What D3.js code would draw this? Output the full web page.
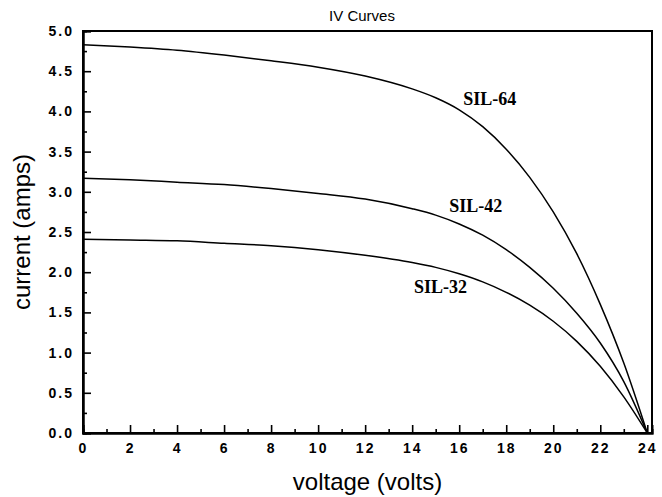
<!DOCTYPE html>
<html>
<head>
<meta charset="utf-8">
<script src="https://cdn.jsdelivr.net/npm/d3@7/dist/d3.min.js"></script>
<style>
  body { margin: 0; background: #fff; }
  svg { display: block; }
</style>
</head>
<body>
<div id="chart"></div>
<script>
// volts, one list for each panel
var volts = [0, 2, 4, 6, 8, 10, 12, 14, 15, 16, 17, 18, 19, 20, 21, 22, 23, 24];
var sil64 = [4.83, 4.80, 4.76, 4.70, 4.63, 4.55, 4.44, 4.28, 4.17, 4.02, 3.81, 3.53, 3.18, 2.75, 2.23, 1.60, 0.87, 0];
var sil42 = [3.17, 3.15, 3.12, 3.09, 3.04, 2.98, 2.91, 2.79, 2.71, 2.60, 2.46, 2.28, 2.06, 1.80, 1.49, 1.12, 0.64, 0];
var sil32 = [2.41, 2.40, 2.39, 2.36, 2.33, 2.28, 2.21, 2.12, 2.06, 1.98, 1.88, 1.75, 1.59, 1.39, 1.14, 0.83, 0.45, 0];
var seriesNames = ['SIL-64', 'SIL-42', 'SIL-32'];
// where each name sits, in data units
var labelAt = [[17.3, 4.08], [16.7, 2.75], [15.2, 1.74]];

var xTicks = [0, 2, 4, 6, 8, 10, 12, 14, 16, 18, 20, 22, 24];
var xMinor = [1, 3, 5, 7, 9, 11, 13, 15, 17, 19, 21, 23];
var yTicks = [0, 0.5, 1, 1.5, 2, 2.5, 3, 3.5, 4, 4.5, 5];
var yMinor = [0.25, 0.75, 1.25, 1.75, 2.25, 2.75, 3.25, 3.75, 4.25, 4.75];

var chart_width = 662, chart_height = 497;
var plot_left = 83, plot_right = 652, plot_top = 31, plot_bottom = 433;

var svg = d3.select('#chart').append('svg')
	.attr('width', chart_width)
	.attr('height', chart_height);

var x = d3.scaleLinear().domain([0, 24.2]).range([plot_left, plot_right]);
var y = d3.scaleLinear().domain([0, 5]).range([plot_bottom, plot_top]);

// frame
svg.append('rect')
	.attr('x', plot_left).attr('y', plot_top)
	.attr('width', plot_right - plot_left).attr('height', plot_bottom - plot_top)
	.attr('fill', 'none').attr('stroke', '#000').attr('stroke-width', 2);

// bottom axis, ticks pointing in
svg.append('g')
	.attr('transform', 'translate(0,' + plot_bottom + ')')
	.call(d3.axisBottom(x).tickValues(xTicks).tickSize(-8).tickPadding(10).tickFormat(d3.format('d')));
svg.append('g')
	.attr('transform', 'translate(0,' + plot_bottom + ')')
	.call(d3.axisBottom(x).tickValues(xMinor).tickSize(-4).tickFormat(''));

svg.append('g')
	.attr('transform', 'translate(' + plot_left + ',0)')
	.call(d3.axisLeft(y).tickValues(yTicks).tickSize(-8).tickPadding(9).tickFormat(d3.format('.1f')));
svg.append('g')
	.attr('transform', 'translate(' + plot_left + ',0)')
	.call(d3.axisLeft(y).tickValues(yMinor).tickSize(-4).tickFormat(''));

svg.selectAll('.domain').attr('stroke', '#000').attr('stroke-width', 2);
svg.selectAll('.tick line').attr('stroke', '#000').attr('stroke-width', 1.6);
svg.selectAll('.tick text')
	.attr('fill', '#000')
	.style('font-family', 'Liberation Sans, Arial, sans-serif')
	.style('font-weight', 'bold')
	.style('font-size', '14px')
	.style('letter-spacing', '2px');

// curves
var line = d3.line()
	.x(function(d) { return x(d[0]); })
	.y(function(d) { return y(d[1]); })
	.curve(d3.curveMonotoneX);

[sil64, sil42, sil32].forEach(function(vals, i) {
	var pts = volts.map(function(v, j) { return [v, vals[j]]; });
	svg.append('path')
		.datum(pts)
		.attr('d', line)
		.attr('fill', 'none')
		.attr('stroke', '#000')
		.attr('stroke-width', 1.5);

	svg.append('text')
		.attr('x', x(labelAt[i][0]))
		.attr('y', y(labelAt[i][1]))
		.attr('text-anchor', 'middle')
		.style('font-family', 'Liberation Serif, Times New Roman, serif')
		.style('font-weight', 'bold')
		.style('font-size', '18px')
		.text(seriesNames[i]);
});

// title and axis names
svg.append('text')
	.attr('x', 362).attr('y', 21)
	.attr('text-anchor', 'middle')
	.style('font-family', 'Liberation Sans, Arial, sans-serif')
	.style('font-size', '15px')
	.text('IV Curves');

svg.append('text')
	.attr('x', (plot_left + plot_right) / 2).attr('y', 490)
	.attr('text-anchor', 'middle')
	.style('font-family', 'Liberation Sans, Arial, sans-serif')
	.style('font-size', '24px')
	.text('voltage (volts)');

svg.append('text')
	.attr('transform', 'translate(30,' + ((plot_top + plot_bottom) / 2) + ') rotate(-90)')
	.attr('text-anchor', 'middle')
	.style('font-family', 'Liberation Sans, Arial, sans-serif')
	.style('font-size', '24px')
	.text('current (amps)');
</script>
</body>
</html>
